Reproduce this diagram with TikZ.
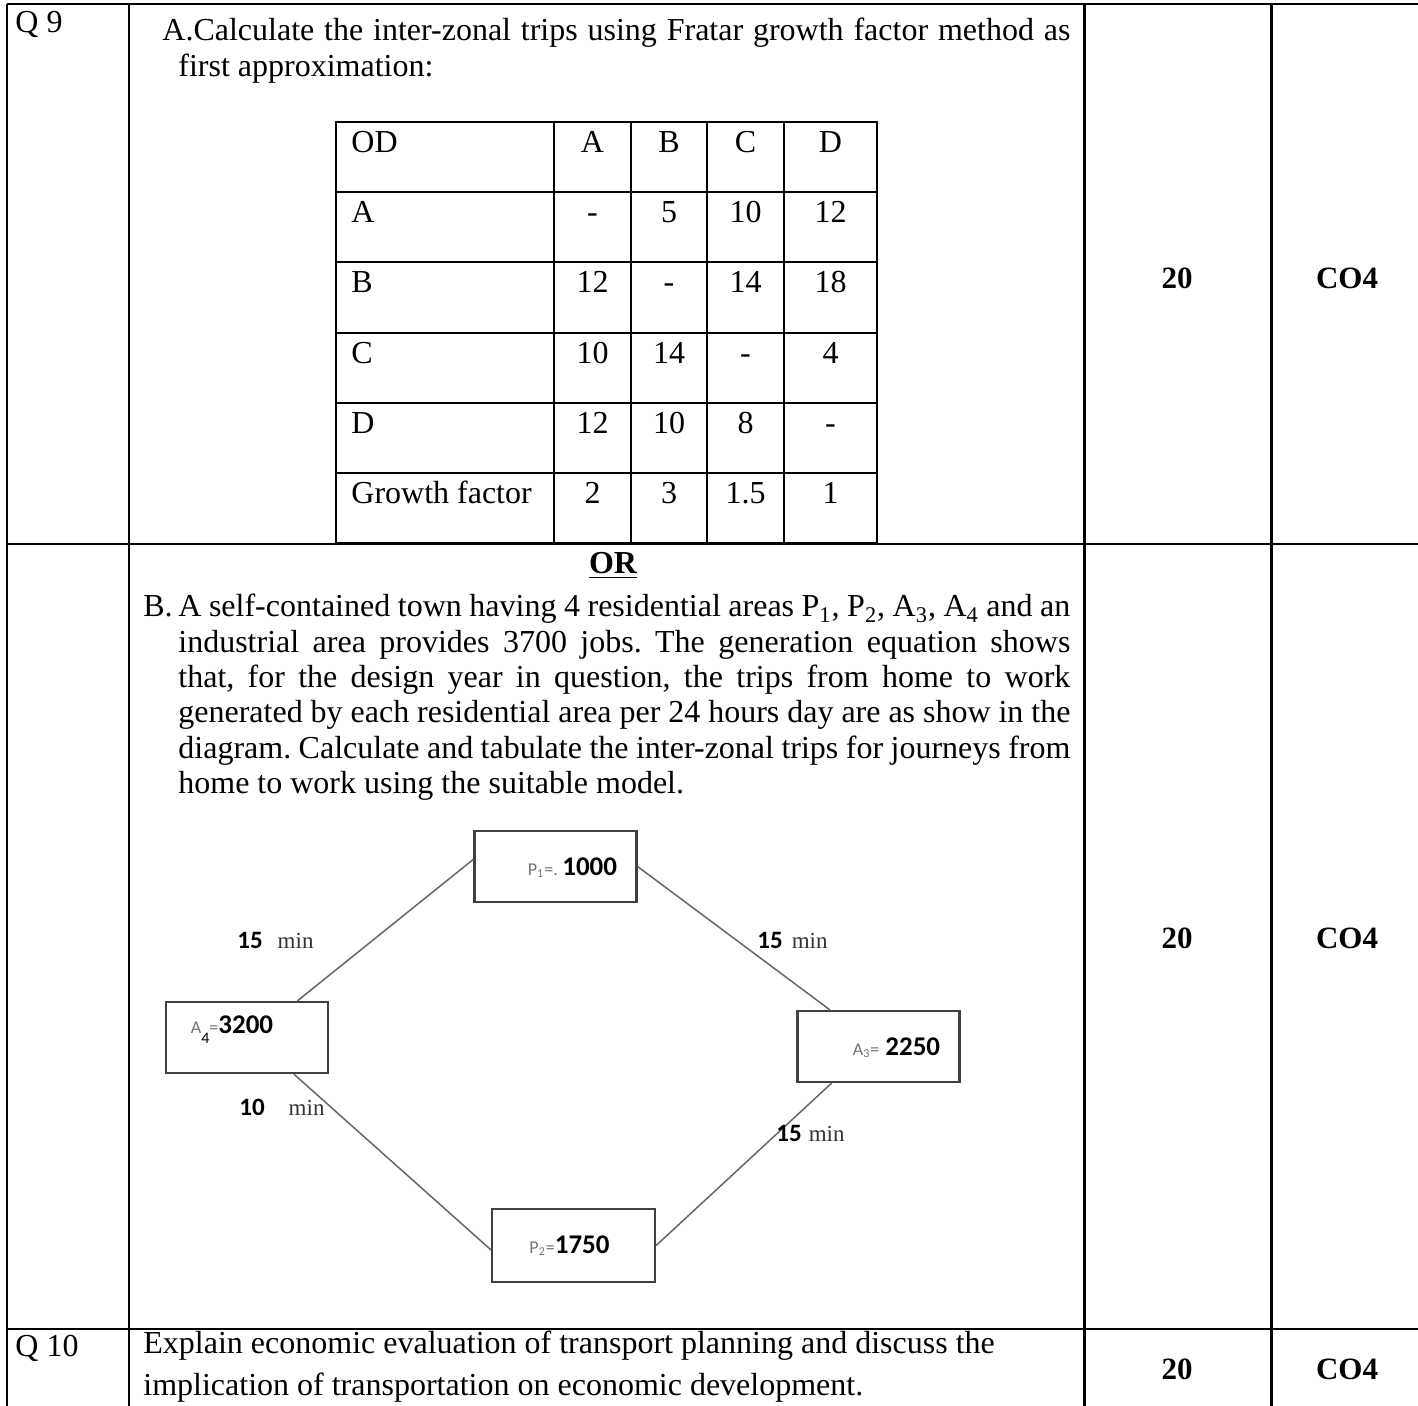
\documentclass[tikz,border=0pt]{standalone}
\usepackage{fontspec}
\setmainfont{Liberation Serif}
\newfontfamily\calfont{Carlito}
\usetikzlibrary{calc}
\frenchspacing

\tikzset{
  rule/.style={line width=1pt},
  heavyrule/.style={line width=1.5pt},
  txt/.style={inner sep=0pt, font=\fontsize{16}{17.65}\selectfont},
  score/.style={inner sep=0pt, font=\bfseries\fontsize{15.5}{17}\selectfont},
  cell/.style={inner sep=0pt, font=\fontsize{16}{17}\selectfont},
  zone/.style={draw=black!75, line width=1.1pt, minimum width=81pt, minimum height=35.5pt, inner sep=0pt},
  zonetxt/.style={inner sep=0pt, font=\calfont\bfseries\fontsize{13.5}{14}\selectfont},
  road/.style={draw=black!60, line width=0.75pt},
  mins/.style={inner sep=0pt, font=\calfont\bfseries\fontsize{12.5}{13}\selectfont}
}
\newcommand{\zonename}[3]{{\mdseries\color{black!55}\fontsize{9}{9}\selectfont #1\textsubscript{#2}#3}}
\newcommand{\minword}{{\rmfamily\mdseries\color{black!80}\fontsize{11.5}{12}\selectfont min}}

\begin{document}
\begin{tikzpicture}[x=0.5pt,y=-0.5pt]
    \useasboundingbox (0,0) rectangle (1418,1406);

    % Outer frame:
    \draw[rule] (7,4) -- (1418,4);
    \draw[rule] (7,544) -- (1418,544);
    \draw[rule] (7,1329) -- (1418,1329);
    \draw[rule] (7,4) -- (7,1406);
    \draw[rule] (129,4) -- (129,1406);
    \draw[heavyrule] (1084,4) -- (1084,1406);
    \draw[heavyrule] (1271,4) -- (1271,1406);

    % Question numbers, marks and outcomes:
    \node[txt, anchor=base west] (q9) at (15,33) {Q 9};
    \node[txt, anchor=base west] (q10) at (15,1356) {Q 10};
    \node[score, anchor=base] (m9a) at (1177,289) {20};
    \node[score, anchor=base] (o9a) at (1347,289) {CO4};
    \node[score, anchor=base] (m9b) at (1177,948) {20};
    \node[score, anchor=base] (o9b) at (1347,948) {CO4};
    \node[score, anchor=base] (m10) at (1177,1379) {20};
    \node[score, anchor=base] (o10) at (1347,1379) {CO4};

    % Part A:
    \node[txt, align=left, anchor=north west] (partA) at (162,18) {%
      \makebox[454pt][s]{A.Calculate the inter-zonal trips using Fratar growth factor method as}\\
      \hspace*{8pt}first approximation:};

    % OD table:
    \draw[rule] (336,122) rectangle (877,544);
    \foreach \y in {192,262,333,403,473} \draw[rule] (336,\y) -- (877,\y);
    \foreach \x in {554,631,707,784} \draw[rule] (\x,122) -- (\x,544);
    \draw[heavyrule] (336,544) -- (877,544);
    \foreach \r/\y/\h/\va/\vb/\vc/\vd in {0/153/OD/A/B/C/D, 1/223/A/-/5/10/12,
        2/293/B/12/-/14/18, 3/364/C/10/14/-/4, 4/434/D/12/10/8/-,
        5/504/Growth factor/2/3/1.5/1} {
      \node[cell, anchor=base west] (h\r) at (351,\y) {\h};
      \node[cell, anchor=base] (a\r) at (592.5,\y) {\va};
      \node[cell, anchor=base] (b\r) at (669,\y) {\vb};
      \node[cell, anchor=base] (c\r) at (745.5,\y) {\vc};
      \node[cell, anchor=base] (d\r) at (830.5,\y) {\vd};
    }

    % Part B:
    \node[txt, font=\bfseries\fontsize{16}{17}\selectfont, anchor=base] (orword) at (613,574) {\underline{OR}};
    \node[txt, align=left, anchor=north west] (partB) at (143,594) {%
      \makebox[463.5pt][s]{\makebox[17.5pt][l]{B.}A self-contained town having 4 residential areas P\textsubscript{1}, P\textsubscript{2}, A\textsubscript{3}, A\textsubscript{4} and an}\\
      \hspace*{17.5pt}\makebox[446pt][s]{industrial area provides 3700 jobs. The generation equation shows}\\
      \hspace*{17.5pt}\makebox[446pt][s]{that, for the design year in question, the trips from home to work}\\
      \hspace*{17.5pt}\makebox[446pt][s]{generated by each residential area per 24 hours day are as show in the}\\
      \hspace*{17.5pt}\makebox[446pt][s]{diagram. Calculate and tabulate the inter-zonal trips for journeys from}\\
      \hspace*{17.5pt}home to work using the suitable model.};

    % Zones:
    \node[zone] (p1) at (555.5,866.5) {};
    \node[zone] (a4) at (247,1037.5) {};
    \node[zone] (a3) at (878.5,1046.5) {};
    \node[zone, minimum width=81.5pt, minimum height=36.5pt] (p2) at (573.5,1245.5) {};
    \node[zonetxt] (p1t) at ($(p1.center)+(17,1.5)$) {\zonename{P}{1}{=.}\,1000};
    \node[zonetxt] (a4t) at ($(a4.center)+(-15,-7.5)$) {{\mdseries\color{black!55}\fontsize{9}{9}\selectfont A\raisebox{-5pt}{\color{black}\fontsize{8}{8}\selectfont 4}=}3200};
    \node[zonetxt] (a3t) at ($(a3.center)+(18,1.5)$) {\zonename{A}{3}{=}\ 2250};
    \node[zonetxt] (p2t) at ($(p2.center)+(-4,0)$) {\zonename{P}{2}{=}1750};

    % Roads:
    \draw[road] (p1.175) -- (a4.36);
    \draw[road] (p1.east) -- (a3.143);
    \draw[road] (a4.-38) -- (p2.183);
    \draw[road] (a3.218) -- (p2.east);

    % Travel times:
    \node[mins, anchor=west] (t1) at (237,940) {15\hspace{7.5pt}\minword};
    \node[mins, anchor=west] (t2) at (757,940) {15\hspace{4.5pt}\minword};
    \node[mins, anchor=west] (t3) at (239,1107) {10\hspace{12pt}\minword};
    \node[mins, anchor=west] (t4) at (776,1133) {15\hspace{3.5pt}\minword};

    % Question 10:
    \node[txt, font=\fontsize{16}{21}\selectfont, align=left, anchor=north west] (q10txt) at (143,1331) {%
      Explain economic evaluation of transport planning and discuss the\\
      implication of transportation on economic development.};
\end{tikzpicture}
\end{document}
